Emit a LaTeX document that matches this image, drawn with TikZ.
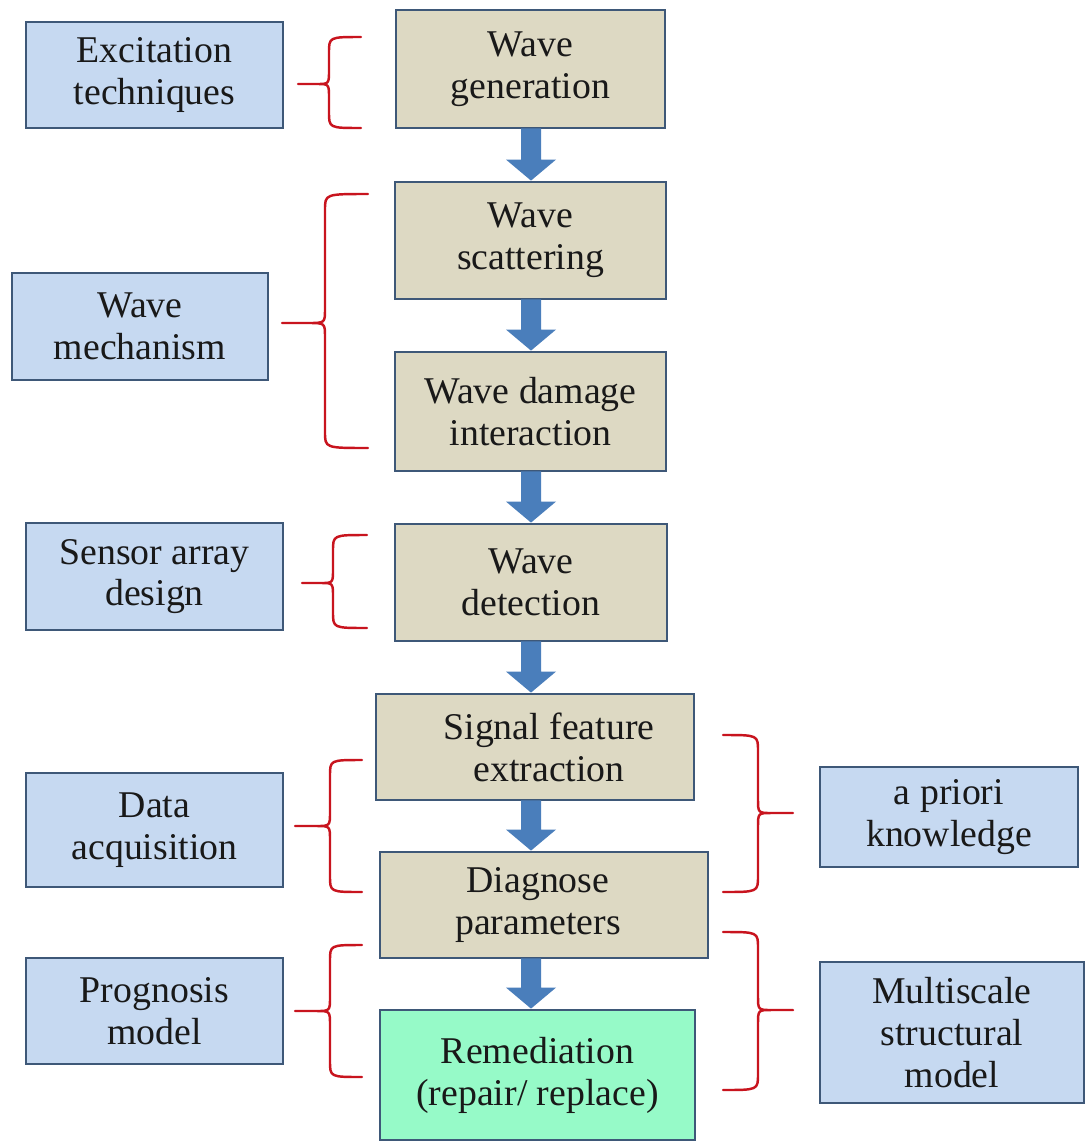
\documentclass[tikz,border=0pt]{standalone}
\usepackage{fontspec}
\setmainfont{Liberation Serif}
\usetikzlibrary{calc}
\definecolor{tanfill}{RGB}{221,217,195}
\definecolor{boxborder}{RGB}{62,88,120}
\definecolor{bluefill}{RGB}{198,217,241}
\definecolor{greenfill}{RGB}{150,250,200}
\definecolor{arrowfill}{RGB}{74,126,187}
\definecolor{bracered}{RGB}{200,20,30}
\definecolor{txtcol}{RGB}{25,25,25}
\tikzset{
  basebox/.style={draw=boxborder, line width=1.6pt, inner sep=0pt, align=center,
     text=txtcol, font=\fontsize{21.5}{23.8}\selectfont},
  mainbox/.style={basebox, fill=tanfill},
  sidebox/.style={basebox, fill=bluefill},
  greenbox/.style={basebox, fill=greenfill},
  txtonly/.style={align=center, inner sep=0pt, text=txtcol, font=\fontsize{21.5}{23.8}\selectfont},
  bracestyle/.style={draw=bracered, line width=1.4pt, line cap=round, line join=round},
}
\newcommand{\blkarrow}[2]{%
  \fill[arrowfill] ($(#1.south -| ax)+(-10,-1)$) -- ($(#2.north -| ax)+(-10,-21)$)
   -- ($(#2.north -| ax)+(-25,-21)$) -- (#2.north -| ax) -- ($(#2.north -| ax)+(25,-21)$)
   -- ($(#2.north -| ax)+(10,-21)$) -- ($(#1.south -| ax)+(10,-1)$) -- cycle;}
\newcommand{\mybrace}[6]{%
  \pgfmathsetmacro{\bm}{#2+0.4*(#1-#2)}%
  \draw[bracestyle] (#3,#4) .. controls (#2,#4) .. (#2,#4+16) -- (#2,#5-14)
    .. controls (#2,#5) .. (\bm,#5) -- (#1,#5)
    (\bm,#5) .. controls (#2,#5) .. (#2,#5+14) -- (#2,#6-16)
    .. controls (#2,#6) .. (#3,#6);}
\begin{document}
\begin{tikzpicture}[x=0.02cm,y=-0.02cm]
\useasboundingbox[fill=white] (0,0) rectangle (1086,1143);
\coordinate (ax) at (531,0);
% main column
\node[mainbox, minimum width=269*0.02cm, minimum height=118*0.02cm] (gen) at (530.5,69) {Wave\\generation};
\node[mainbox, minimum width=271*0.02cm, minimum height=117*0.02cm] (scat) at (530.5,240.5) {Wave\\scattering};
\node[mainbox, minimum width=271*0.02cm, minimum height=119*0.02cm] (dam) at (530.5,411.5) {Wave damage\\interaction};
\node[mainbox, minimum width=272*0.02cm, minimum height=117*0.02cm] (det) at (531,582.5) {Wave\\detection};
\node[mainbox, minimum width=318*0.02cm, minimum height=106*0.02cm] (sig) at (535,747) {};
\node[txtonly] (sigt) at (549,747) {Signal feature\\extraction};
\node[mainbox, minimum width=328*0.02cm, minimum height=106*0.02cm] (diag) at (544,905) {};
\node[txtonly] (diagt) at (538,905) {Diagnose\\parameters};
\node[greenbox, minimum width=315*0.02cm, minimum height=130*0.02cm] (rem) at (537.5,1075) {Remediation\\(repair/ replace)};
% side boxes
\node[sidebox, minimum width=257*0.02cm, minimum height=106*0.02cm] (exc) at (154.5,75) {Excitation\\techniques};
\node[sidebox, minimum width=256*0.02cm, minimum height=107*0.02cm] (mech) at (140,326.5) {Wave\\mechanism};
\node[sidebox, minimum width=257*0.02cm, minimum height=107*0.02cm] (sens) at (154.5,576.5) {Sensor array\\design};
\node[sidebox, minimum width=257*0.02cm, minimum height=114*0.02cm] (data) at (154.5,830) {Data\\acquisition};
\node[sidebox, minimum width=257*0.02cm, minimum height=106*0.02cm] (prog) at (154.5,1011) {Prognosis\\model};
\node[sidebox, minimum width=258*0.02cm, minimum height=100*0.02cm] (apri) at (949,817) {a priori\\knowledge};
\node[sidebox, minimum width=264*0.02cm, minimum height=141*0.02cm] (multi) at (952,1032.5) {Multiscale\\structural\\model};
% block arrows
\blkarrow{gen}{scat}
\blkarrow{scat}{dam}
\blkarrow{dam}{det}
\blkarrow{det}{sig}
\blkarrow{sig}{diag}
\blkarrow{diag}{rem}
% braces
\mybrace{298}{329}{361}{37}{84}{128}
\mybrace{282}{325}{368}{194}{323}{448}
\mybrace{302}{333}{367}{535}{583}{628}
\mybrace{295}{330}{362}{760}{826}{892}
\mybrace{295}{330}{362}{945}{1011}{1077}
\mybrace{793}{758}{723}{735}{813}{892}
\mybrace{793}{758}{723}{932}{1010}{1090}
\end{tikzpicture}
\end{document}
